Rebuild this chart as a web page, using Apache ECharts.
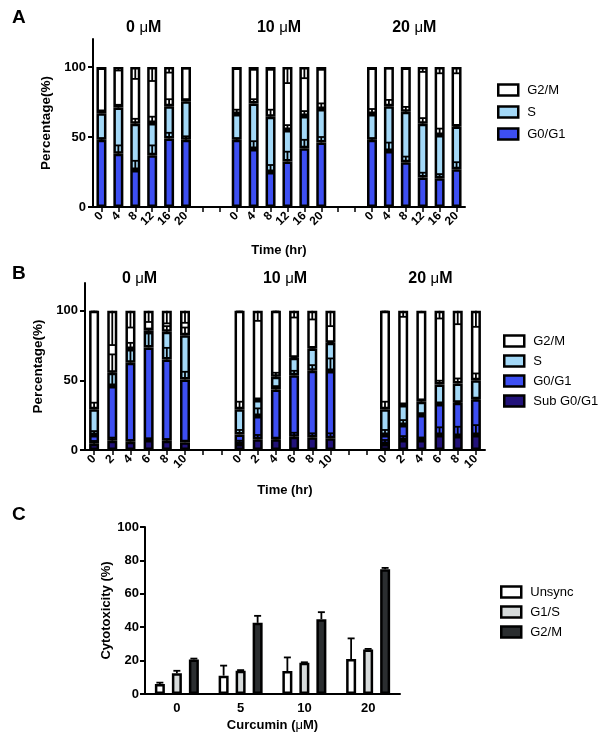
<!DOCTYPE html>
<html><head><meta charset="utf-8">
<script src="https://cdn.jsdelivr.net/npm/echarts@6/dist/echarts.min.js"></script>
<style>html,body{margin:0;padding:0;background:#fff}#c{width:600px;height:738px}</style>
</head><body><div id="c"></div>
<script>
const FONT = '"Liberation Sans", Arial, Helvetica, sans-serif';

// ---------- Panel A (segment heights, %) ----------
const timesA = ['0','4','8','12','16','20'];
const doseTitles = ['0', '10', '20'];
const A_G0  = [[48, 38, 26.5, 37, 49, 48], [48, 41.5, 25, 32.5, 42, 46], [48, 40, 32, 21, 20.5, 27]];
const A_S   = [[19, 33, 33, 23, 23, 27.5], [18.5, 32.5, 39.5, 22.5, 23, 24], [18.5, 32, 36, 38.5, 31, 30.5]];
const A_G2M = [[33, 29, 40.5, 40, 28, 24.5], [33.5, 26, 35.5, 45, 35, 30], [33.5, 28, 32, 40.5, 48.5, 42.5]];
const A_G0_err  = [[1, 6, 6.5, 7, 4, 2.5], [1, 5.5, 5, 7, 6, 4], [1, 6, 4, 3.5, 3, 5]];
const A_S_err   = [[2, 2, 3.5, 4.5, 5, 1.5], [3, 3, 5, 3.5, 3.5, 4], [3.5, 4.5, 3.5, 4, 4.5, 0.5]];
const A_G2M_err = [[1.5, 2.5, 8.5, 10, 4, 1], [1.5, 2, 2, 11.5, 8, 2], [1.5, 1, 1.5, 3.5, 4.5, 4.5]];

// ---------- Panel B (segment heights, %) ----------
const timesB = ['0','2','4','6','8','10'];
const B_Sub = [[4.5, 6.7, 6, 7.2, 6.7, 5.5], [4.3, 7.7, 7.7, 9.6, 9.1, 8.4], [4.3, 7.2, 7.2, 10.8, 10, 10.8]];
const B_G0  = [[6.3, 39.2, 56.7, 66.5, 58.3, 45.2], [6.9, 16.7, 35.8, 44.2, 47.8, 48.3], [6.5, 10.7, 17.9, 22.2, 24, 25.6]];
const B_S   = [[18.4, 9.6, 9.8, 11.9, 19.9, 31.8], [18, 11.5, 9.1, 12.5, 16.1, 20.3], [18.4, 14.4, 9.6, 14.1, 13.8, 13.8]];
const B_G2M = [[70.8, 44.5, 27.5, 14.4, 15.1, 17.5], [70.8, 64.1, 47.4, 33.7, 27, 23], [70.8, 67.7, 65.3, 52.9, 52.2, 49.8]];
const B_Sub_err = [[2, 2.2, 1, 1, 1, 1], [2.4, 3.1, 0.5, 2.8, 2.9, 3.6], [2.9, 2.8, 1.8, 5.5, 6.7, 7.1]];
const B_G0_err  = [[2.8, 9, 9.5, 10, 8.4, 5.5], [3.2, 5.5, 2.4, 3.1, 4.1, 9.1], [3.6, 3.6, 1.2, 0.5, 0.5, 0.5]];
const B_S_err   = [[4.8, 13.2, 4.5, 1.7, 4.1, 5.5], [5.5, 0.5, 2.9, 0.5, 0.5, 0.5], [5.5, 0.5, 1.7, 2.7, 3.6, 4.8]];
const B_G2M_err = [[0.5, 24.6, 12, 8, 9, 8.6], [0.5, 7.2, 0.5, 4.8, 6.2, 11], [0.5, 4.3, 1, 5.5, 9.6, 11.5]];

// ---------- Panel C ----------
const dosesC = ['0', '5', '10', '20'];
const C_Unsync = [6, 11, 13.7, 20.9];
const C_G1S    = [12.4, 13.9, 18.7, 26.7];
const C_G2M    = [20.7, 42.6, 44.8, 74.7];
const C_Unsync_err = [0.8, 6, 8.2, 12.4];
const C_G1S_err    = [1.5, 0.4, 0.3, 0.3];
const C_G2M_err    = [0.5, 4.2, 4.2, 0.8];

// ---------- colours ----------
const COL_G2M = '#ffffff', COL_S = '#a3d8f7', COL_G0 = '#3d4ff2', COL_SUB = '#22127a';
const COL_C_UN = '#ffffff', COL_C_G1S = '#d6dada', COL_C_G2M = '#2b2e30';

// ---------- helpers ----------
const GAP = 2;
function spread(groups, blank) {
  const out = [];
  groups.forEach((g, i) => { if (i > 0) for (let k = 0; k < GAP; k++) out.push(blank); out.push(...g); });
  return out;
}
function idxOf(g, i) { return g * (6 + GAP) + i; }

// error bar items for stacked panels: list of segment arrays (bottom->top), err arrays, downward flags
function stackErrors(segs, errs, down) {
  const items = [];
  for (let g = 0; g < 3; g++) {
    for (let i = 0; i < 6; i++) {
      let cum = 0;
      segs.forEach((s, k) => {
        cum += s[g][i];
        const e = errs[k][g][i];
        items.push([idxOf(g, i), cum, down[k] ? cum - e : cum + e]);
      });
    }
  }
  return items;
}
function errRender(params, api) {
  const x = api.value(0), y0 = api.value(1), y1 = api.value(2);
  const off = (api.value(3) || 0);
  const p0 = api.coord([x, y0]), p1 = api.coord([x, y1]);
  const cx = p0[0] + off;
  const hw = 3.5;
  return { type: 'group', children: [
    { type: 'line', shape: { x1: cx, y1: p0[1], x2: cx, y2: p1[1] }, style: { stroke: '#000', lineWidth: 1.8 } },
    { type: 'line', shape: { x1: cx - hw, y1: p1[1], x2: cx + hw, y2: p1[1] }, style: { stroke: '#000', lineWidth: 1.8 } }
  ]};
}

const catsA = spread([timesA, timesA, timesA], '');
const catsB = spread([timesB, timesB, timesB], '');

const barStyle = c => ({ color: c, borderColor: '#000', borderWidth: 2.5 });
function stackBar(name, gi, data, color, stack) {
  return { name, type: 'bar', xAxisIndex: gi, yAxisIndex: gi, stack, barWidth: 10,
    data: spread(data, '-'), itemStyle: barStyle(color), emphasis: { disabled: true }, animation: false };
}

const axisLbl = { color: '#000', fontFamily: FONT, fontWeight: 'bold', fontSize: 13 };
function yAxisStacked(gi) {
  return { type: 'value', gridIndex: gi, min: 0, max: 120,
    name: 'Percentage(%)', nameLocation: 'middle', nameGap: 30,
    nameTextStyle: { color: '#000', fontFamily: FONT, fontWeight: 'bold', fontSize: 13.5 },
    axisLine: { show: true, lineStyle: { color: '#000', width: 2 } },
    axisTick: { show: true, length: 5, lineStyle: { color: '#000', width: 2 }, customValues: [0, 50, 100] },
    axisLabel: Object.assign({ margin: 7, customValues: [0, 50, 100] }, axisLbl),
    splitLine: { show: false } };
}
function xAxisStacked(gi, cats, gap) {
  return { type: 'category', gridIndex: gi, data: cats,
    name: 'Time (hr)', nameLocation: 'middle', nameGap: gap,
    nameTextStyle: { color: '#000', fontFamily: FONT, fontWeight: 'bold', fontSize: 13 },
    axisLine: { show: true, lineStyle: { color: '#000', width: 2 } },
    axisTick: { show: true, alignWithLabel: true, interval: 0, length: 5, lineStyle: { color: '#000', width: 1.5 } },
    axisLabel: { interval: 0, rotate: 45, margin: 7, color: '#000', fontFamily: FONT, fontWeight: 'bold', fontSize: 12 } };
}
const legendBase = { orient: 'vertical', icon: 'rect', itemWidth: 20, itemHeight: 11, selectedMode: false, padding: 0,
  formatter: n => n.split('|')[1],
  textStyle: { color: '#000', fontFamily: FONT, fontSize: 13, lineHeight: 16, padding: [0, 0, 0, 4] },
  itemStyle: { borderColor: '#000', borderWidth: 2.5 } };

const chart = echarts.init(document.getElementById('c'), null, { renderer: 'canvas' });

const option = {
  animation: false,
  backgroundColor: '#fff',
  grid: [
    { left: 93, width: 372, top: 39, height: 168 },
    { left: 85, width: 400, top: 283, height: 167 },
    { left: 145, width: 255, top: 527, height: 167 }
  ],
  xAxis: [
    xAxisStacked(0, catsA, 37),
    xAxisStacked(1, catsB, 34),
    { type: 'category', gridIndex: 2, data: dosesC,
      name: '{b|Curcumin (}{m|μ}{b|M)}', nameLocation: 'middle', nameGap: 25,
      nameTextStyle: { rich: { b: { color: '#000', fontFamily: FONT, fontWeight: 'bold', fontSize: 13 }, m: { color: '#000', fontFamily: FONT, fontSize: 13 } } },
      axisLine: { show: true, lineStyle: { color: '#000', width: 2 } },
      axisTick: { show: false },
      axisLabel: Object.assign({ margin: 8 }, axisLbl) }
  ],
  yAxis: [
    yAxisStacked(0),
    yAxisStacked(1),
    { type: 'value', gridIndex: 2, min: 0, max: 100, interval: 20,
      name: 'Cytotoxicity (%)', nameLocation: 'middle', nameGap: 30,
      nameTextStyle: { color: '#000', fontFamily: FONT, fontWeight: 'bold', fontSize: 13 },
      axisLine: { show: true, lineStyle: { color: '#000', width: 2 } },
      axisTick: { show: true, length: 5, lineStyle: { color: '#000', width: 2 } },
      axisLabel: Object.assign({ margin: 6 }, axisLbl),
      splitLine: { show: false } }
  ],
  legend: [
    Object.assign({}, legendBase, { data: ['A|G2/M', 'A|S', 'A|G0/G1'], left: 497, top: 82, itemGap: 6 }),
    Object.assign({}, legendBase, { data: ['B|G2/M', 'B|S', 'B|G0/G1', 'B|Sub G0/G1'], left: 503, top: 333, itemGap: 4 }),
    Object.assign({}, legendBase, { data: ['C|Unsync', 'C|G1/S', 'C|G2/M'], left: 500, top: 584, itemGap: 4 })
  ],
  series: [
    stackBar('A|G0/G1', 0, A_G0, COL_G0, 'A'),
    stackBar('A|S', 0, A_S, COL_S, 'A'),
    stackBar('A|G2/M', 0, A_G2M, COL_G2M, 'A'),
    { name: 'errA', type: 'custom', xAxisIndex: 0, yAxisIndex: 0, z: 5, renderItem: errRender,
      data: stackErrors([A_G0, A_S, A_G2M], [A_G0_err, A_S_err, A_G2M_err], [false, false, true]) },
    stackBar('B|Sub G0/G1', 1, B_Sub, COL_SUB, 'B'),
    stackBar('B|G0/G1', 1, B_G0, COL_G0, 'B'),
    stackBar('B|S', 1, B_S, COL_S, 'B'),
    stackBar('B|G2/M', 1, B_G2M, COL_G2M, 'B'),
    { name: 'errB', type: 'custom', xAxisIndex: 1, yAxisIndex: 1, z: 5, renderItem: errRender,
      data: stackErrors([B_Sub, B_G0, B_S, B_G2M], [B_Sub_err, B_G0_err, B_S_err, B_G2M_err], [false, false, false, true]) },
    { name: 'C|Unsync', type: 'bar', xAxisIndex: 2, yAxisIndex: 2, barWidth: 10, barGap: '70%', data: C_Unsync, itemStyle: barStyle(COL_C_UN) },
    { name: 'C|G1/S', type: 'bar', xAxisIndex: 2, yAxisIndex: 2, barWidth: 10, barGap: '70%', data: C_G1S, itemStyle: barStyle(COL_C_G1S) },
    { name: 'C|G2/M', type: 'bar', xAxisIndex: 2, yAxisIndex: 2, barWidth: 10, barGap: '70%', data: C_G2M, itemStyle: barStyle(COL_C_G2M) },
    { name: 'errC', type: 'custom', xAxisIndex: 2, yAxisIndex: 2, z: 5, renderItem: errRender,
      data: [].concat(
        C_Unsync.map((v, i) => [i, v, v + C_Unsync_err[i], -17]),
        C_G1S.map((v, i) => [i, v, v + C_G1S_err[i], 0]),
        C_G2M.map((v, i) => [i, v, v + C_G2M_err[i], 17])) }
  ]
};
chart.setOption(option);

// titles & panel letters, centred over each dose group
function groupCenter(axisIdx, g) {
  const a = chart.convertToPixel({ xAxisIndex: axisIdx }, idxOf(g, 2));
  const b = chart.convertToPixel({ xAxisIndex: axisIdx }, idxOf(g, 3));
  return (a + b) / 2;
}
const graphics = [];
function letter(t, y) {
  graphics.push({ type: 'text', x: 12, y, style: { text: t, font: 'bold 19px ' + FONT, fill: '#000', textVerticalAlign: 'middle', verticalAlign: 'middle' } });
}
letter('A', 18); letter('B', 274); letter('C', 515);
[[0, 28], [1, 279]].forEach(([ax, y]) => {
  doseTitles.forEach((d, g) => {
    graphics.push({ type: 'text', x: groupCenter(ax, g), y,
      style: { text: '{b|' + d + ' }{m|μ}{b|M}', textAlign: 'center', align: 'center', textVerticalAlign: 'middle', verticalAlign: 'middle',
        rich: { b: { fontFamily: FONT, fontWeight: 'bold', fontSize: 16, fill: '#000', color: '#000' },
                m: { fontFamily: FONT, fontSize: 15, fill: '#000', color: '#000' } } } });
  });
});
chart.setOption({ graphic: graphics });
</script></body></html>
